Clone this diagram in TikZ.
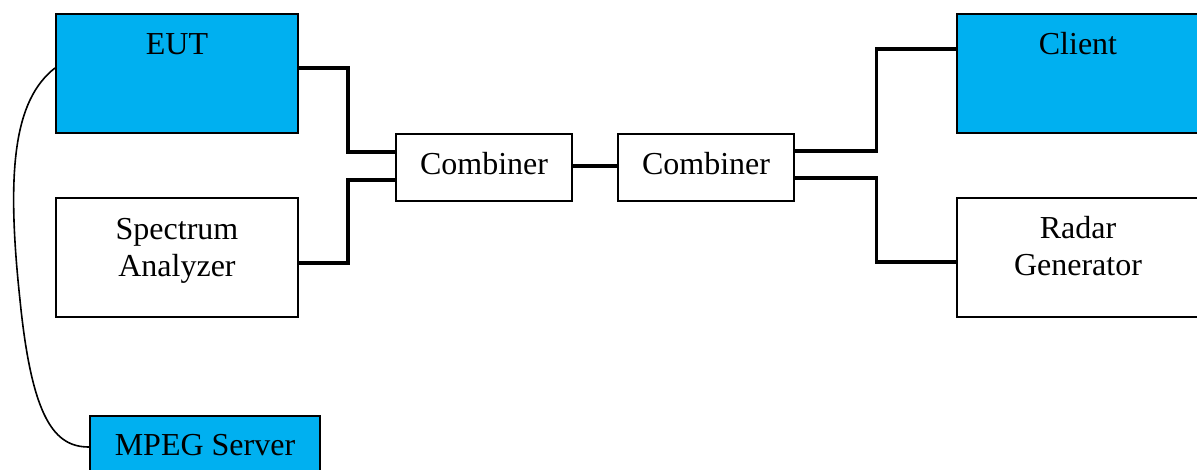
\documentclass[tikz,border=0pt]{standalone}
\usepackage{fontspec}
\setmainfont{Liberation Serif}
\usetikzlibrary{calc}
\definecolor{devblue}{RGB}{0,176,240}
\tikzset{
  box/.style={draw=black, line width=2pt, inner sep=0pt, minimum width=242pt, minimum height=119pt},
  smallbox/.style={draw=black, line width=1.6pt, inner sep=0pt, minimum width=176pt, minimum height=67pt},
  devbox/.style={box, fill=devblue},
  txt/.style={font=\fontsize{32pt}{37pt}\selectfont, align=center, inner sep=0pt},
  wire/.style={line width=3.2pt, line join=miter},
  cable/.style={line width=1.6pt}
}
\begin{document}
\begin{tikzpicture}[x=1pt, y=-1pt]
  \useasboundingbox (0,0) rectangle (1197,469);
  \clip (0,0) rectangle (1197,469);

  % equipment boxes
  \node[devbox] (eut) at (177,73.5) {};
  \node[box] (sa) at (177,257.5) {};
  \node[devbox, minimum width=230pt, minimum height=62pt] (mpeg) at (205,447) {};
  \node[smallbox] (comb1) at (484,167.5) {};
  \node[smallbox] (comb2) at (706,167.5) {};
  \node[devbox] (client) at (1078,73.5) {};
  \node[box] (radar) at (1078,257.5) {};

  % labels
  \node[txt] (eutlbl) at (177,44) {EUT};
  \node[txt] (salbl) at (177,250.5) {Spectrum\\Analyzer};
  \node[txt] (mpeglbl) at (205,445) {MPEG Server};
  \node[txt] (c1lbl) at (484,164) {Combiner};
  \node[txt] (c2lbl) at (706,164) {Combiner};
  \node[txt] (clientlbl) at (1078,44) {Client};
  \node[txt] (radarlbl) at (1078,246) {Radar\\Generator};

  % RF wiring
  \draw[wire] ([yshift=5.5pt]eut.east) -| ++(49,0) |- ([yshift=15.5pt]comb1.west);
  \draw[wire] ([yshift=-5.5pt]sa.east) -| ++(49,0) |- ([yshift=-12.5pt]comb1.west);
  \draw[wire] ([yshift=1.5pt]comb1.east) -- ([yshift=1.5pt]comb2.east -| comb2.west);
  \draw[wire] ([yshift=16.5pt]comb2.east) -| ++(82,0) |- ([yshift=24.5pt]client.west);
  \draw[wire] ([yshift=-10.5pt]comb2.east) -| ++(82,0) |- ([yshift=-4.5pt]radar.west);

  % cable from EUT to the MPEG server
  \draw[cable] ([yshift=5.5pt]eut.west)
    .. controls (14,100) and (6,170) .. (20,300)
    .. controls (32,420) and (55,447) .. (mpeg.west);
\end{tikzpicture}
\end{document}
